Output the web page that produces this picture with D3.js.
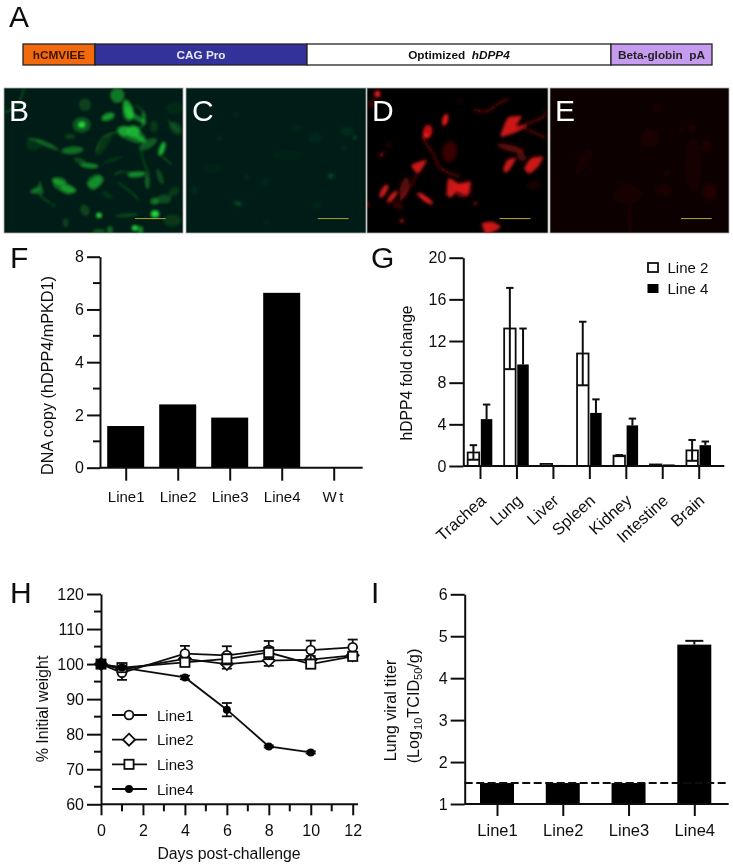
<!DOCTYPE html>
<html>
<head>
<meta charset="utf-8">
<script src="https://cdnjs.cloudflare.com/ajax/libs/d3/7.8.5/d3.min.js"></script>
<style>
  html, body { margin: 0; padding: 0; background: #fff; }
  svg { display: block; }
  text { font-family: "Liberation Sans", Arial, sans-serif; fill: #111; }
</style>
</head>
<body>
<div id="chart"></div>
<script>
var width = 733,
  height = 867;

// panel A construct
var constructNames = ['hCMVIEE', 'CAG Pro', 'Optimized', 'Beta-globin  pA'];
var constructEnds = [0, 72, 284, 588, 689];
var constructColors = ['#f26a0f', '#33339a', '#ffffff', '#c69cf0'];

// panel F
var fCats = ['Line1', 'Line2', 'Line3', 'Line4', 'Wt'];
var fVals = [1.58, 2.4, 1.9, 6.63, 0];

// panel G
var gCats = ['Trachea', 'Lung', 'Liver', 'Spleen', 'Kidney', 'Intestine', 'Brain'];
var gLine2 = [1.3, 13.2, 0.2, 10.8, 1.0, 0.15, 1.5];
var gLine2Err = [0.7, 3.9, 0, 3.05, 0.05, 0, 1.0];
var gLine4 = [4.5, 9.75, 0.1, 5.1, 3.9, 0.15, 2.0];
var gLine4Err = [1.4, 3.45, 0, 1.3, 0.65, 0, 0.35];

// panel H
var hDays = [0, 1, 4, 6, 8, 10, 12];
var hLine1 = [100, 97.5, 103, 102.5, 104, 104, 104.8];
var hLine1Err = [0, 2, 2.2, 2.6, 2.6, 2.7, 2.2];
var hLine2 = [100, 98.5, 101.5, 100, 101, 101.3, 102.5];
var hLine2Err = [0, 1, 1, 1.3, 1.5, 1, 0.8];
var hLine3 = [100, 99, 100.5, 101.5, 103.3, 100, 102.2];
var hLine3Err = [0, 1, 1, 1.3, 1.5, 1.2, 0.8];
var hLine4 = [100, 99, 96.2, 87, 76.5, 74.8];
var hLine4Err = [0, 0.5, 0.5, 1.9, 0.3, 0.3];

// panel I
var iCats = ['Line1', 'Line2', 'Line3', 'Line4'];
var iVals = [1.5, 1.5, 1.5, 4.8];
var iErr = [0, 0, 0, 0.09];

// micrograph cells: x, y, rx, ry, angle, opacity (image is 537 x 433 units)
var cellsB = [
  [233,110,20,17,0,.3],[233,110,8,7,0,1],[340,22,15,16,0,.5],[372,65,10,22,-15,.7],[400,90,22,5,30,.5],[418,92,4,16,0,.45],
  [360,128,12,11,0,.55],[388,130,14,13,0,.65],[410,152,14,6,30,.55],[312,86,15,8,-20,.65],[243,50,14,14,0,.2],[198,145,12,7,0,.18],
  [130,170,28,5,25,.3],[90,168,18,14,0,.12],[205,186,24,8,-5,.45],[228,218,14,6,20,.25],[256,232,20,5,5,.6],[165,278,16,8,10,.5],
  [193,302,18,8,15,.45],[272,280,18,14,-35,.35],[92,305,12,5,-30,.35],[398,258,20,6,-5,.6],[430,280,5,16,0,.4],
  [468,265,6,18,-20,.25],[474,182,6,16,20,.8],[432,168,22,9,-30,.35],[450,115,10,14,0,.15],[515,120,12,16,-40,.18],[285,380,6,6,0,1],
  [453,376,9,8,0,1],[393,418,7,6,0,1],[410,425,5,9,0,.6],[452,338,9,7,0,.5],[480,332,16,10,0,.25],[243,365,10,13,-25,.22],
  [368,380,26,5,-5,.2],[318,424,6,9,0,.4],[185,402,7,10,0,.2],[285,428,14,5,0,.3],[510,310,14,10,-30,.15],[505,395,20,14,0,.15],
  [150,350,2,2,0,.8],[325,215,24,4,-20,.15],[300,170,8,30,35,.14],[310,320,14,6,30,.14],[510,60,20,14,0,.08]
];
var cellsC = [
  [503,148,4,3,-30,.35],[480,130,14,10,0,.07],[432,263,6,6,0,.2],[180,267,3,2,0,.28],[155,345,9,5,20,.2],[235,280,8,6,0,.06],
  [385,150,14,10,0,.05],[150,80,5,4,0,.08],[100,150,4,4,0,.1],[330,120,12,8,0,.04],[25,305,5,8,0,.08],[240,400,6,3,0,.08],
  [470,180,5,5,0,.08],[390,350,7,5,0,.06],[80,240,20,8,0,.03],[300,200,30,10,0,.025]
];
var cellsD = [
  [31,18,6,7,0,1],[232,95,6,13,15,.95],[180,130,10,14,10,.8],[175,142,7,6,0,.9],
  [245,190,15,22,10,.22],[427,180,30,7,15,.35],[458,205,12,8,40,.28],
  [50,308,6,16,30,.85],[110,300,9,24,15,.35],[75,325,5,16,40,.9],[90,350,14,6,30,.2],[172,330,5,20,-55,.95],
  [285,305,18,16,0,.35],[103,397,5,3,0,.8],[322,345,4,3,0,.55],[45,200,4,2,-30,.5],[65,170,4,3,0,.25],
  [495,290,14,8,0,.08],[0,348,3,6,0,.6],[275,40,5,5,0,.08]
];
var cellsE = [
  [300,150,18,18,0,.07],[480,310,16,18,0,.09],[340,305,18,12,0,.06],[470,175,10,12,0,.07],[425,120,7,7,0,.07],[395,125,6,6,0,.05],
  [320,60,10,8,0,.05],[100,220,8,30,30,.05],[230,320,30,20,0,.03],[240,400,6,40,0,.03],[430,230,20,60,0,.025],[350,255,6,5,0,.05]
];
// larger cell bodies, outlines in the same image units
var shapesB = [
  [[106,275],[118,315],[83,312],[102,298]],[[360,60],[385,55],[392,85],[372,100],[358,85]],[[340,118],[395,115],[425,150],[400,165],[350,145]],
  [[150,270],[190,285],[215,305],[190,318],[150,295]],[[250,285],[285,258],[300,275],[270,305]]
];
var shapesD = [
  [[397,145],[417,90],[437,85],[459,85],[442,115],[477,110],[447,130]],[[237,320],[242,270],[272,285],[307,280],[297,320],[267,310],[252,325]],
  [[342,405],[372,400],[397,415],[372,430],[352,435]],[[467,240],[487,210],[522,205],[507,235],[482,255]],
  [[405,240],[417,215],[442,210],[422,245],[409,252]],[[132,230],[177,215],[152,255]]
];
// thin cell processes
var processB = [
  [[70,150],[110,160],[150,175]],[[0,75],[40,50],[60,0]],[[105,318],[125,335],[142,345]],[[340,280],[380,310],[405,335]],
  [[275,190],[300,145],[350,130]],[[410,190],[425,235],[435,260]],[[475,205],[490,218],[503,230]],[[395,50],[420,75],[418,110],[395,125]],
  [[525,130],[505,110],[490,95]],[[330,260],[350,250],[392,255]]
];
var processD = [
  [[318,65],[355,70],[385,50],[420,32]],[[440,120],[480,105],[525,85],[530,70]],[[5,40],[15,55],[20,30]],[[165,150],[195,195],[220,240],[275,265]],
  [[35,205],[50,190]],[[150,250],[125,300],[95,340]],[[440,110],[500,135],[530,150]]
];
var processE = [[[60,180],[110,230],[150,270]],[[200,280],[270,310],[300,400]]];

var svg = d3.select('#chart').append('svg')
  .attr('width', width)
  .attr('height', height);

var defs = svg.append('defs');
defs.append('filter').attr('id', 'soft').attr('x', '-5%').attr('y', '-5%').attr('width', '110%').attr('height', '110%')
  .append('feGaussianBlur').attr('stdDeviation', 0.4);
defs.append('filter').attr('id', 'cellblur').attr('x', '-5%').attr('y', '-5%').attr('width', '110%').attr('height', '110%')
  .append('feGaussianBlur').attr('stdDeviation', 1.5);

var chart = svg.append('g').attr('filter', 'url(#soft)');

function letter(t, x, y, col) {
  chart.append('text').attr('x', x).attr('y', y).attr('font-size', 30)
    .style('fill', col || '#111').text(t);
}

//// panel A
var a = d3.scaleLinear().domain([0, 689]).range([23, 712]);
var ag = chart.append('g');
d3.range(4).forEach(function(i) {
  ag.append('rect')
    .attr('x', a(constructEnds[i]))
    .attr('y', 44)
    .attr('width', a(constructEnds[i + 1]) - a(constructEnds[i]))
    .attr('height', 21)
    .attr('fill', constructColors[i])
    .attr('stroke', '#222')
    .attr('stroke-width', 1.3);
});
function constructLabel(i, col) {
  return ag.append('text')
    .attr('x', (a(constructEnds[i]) + a(constructEnds[i + 1])) / 2)
    .attr('y', 59).attr('text-anchor', 'middle')
    .attr('font-size', 11.8).attr('font-weight', 'bold')
    .style('fill', col);
}
constructLabel(0, '#3a1500').text(constructNames[0]);
constructLabel(1, '#e8e8f5').text(constructNames[1]);
var opt = constructLabel(2, '#111').attr('xml:space', 'preserve').text(constructNames[2] + '  ');
opt.append('tspan').style('font-style', 'italic').text('hDPP4');
constructLabel(3, '#222').attr('xml:space', 'preserve').text(constructNames[3]);
letter('A', 9, 27);

//// micrographs
function micro(x0, x1, bg, col, cells, shapes, shapeOp, procs, procOp, barCol) {
  var y0 = 88, y1 = 233;
  var mx = d3.scaleLinear().domain([0, 537]).range([x0, x1]);
  var my = d3.scaleLinear().domain([0, 433]).range([y0, y1]);
  var id = 'clip' + x0;
  defs.append('clipPath').attr('id', id).append('rect')
    .attr('x', x0).attr('y', y0).attr('width', x1 - x0).attr('height', y1 - y0);
  chart.append('rect').attr('x', x0).attr('y', y0).attr('width', x1 - x0).attr('height', y1 - y0)
    .attr('fill', bg).attr('stroke', '#a8aca8').attr('stroke-width', 0.8);
  var g = chart.append('g').attr('clip-path', 'url(#' + id + ')')
    .append('g').attr('filter', 'url(#cellblur)');
  g.selectAll('ellipse').data(cells).enter().append('ellipse')
    .attr('cx', function(d) { return mx(d[0]); })
    .attr('cy', function(d) { return my(d[1]); })
    .attr('rx', function(d) { return d[2] * 1.4 / 3; })
    .attr('ry', function(d) { return d[3] * 1.4 / 3; })
    .attr('transform', function(d) { return 'rotate(' + d[4] + ' ' + mx(d[0]) + ' ' + my(d[1]) + ')'; })
    .attr('fill', col)
    .attr('opacity', function(d) { return d[5]; });
  var ln = d3.line().curve(d3.curveCatmullRom)
    .x(function(d) { return mx(d[0]); })
    .y(function(d) { return my(d[1]); });
  var blob = d3.line().curve(d3.curveCardinalClosed.tension(0.4))
    .x(function(d) { return mx(d[0]); })
    .y(function(d) { return my(d[1]); });
  g.selectAll('path.shape').data(shapes).enter().append('path').attr('class', 'shape')
    .attr('d', blob).attr('fill', col).attr('opacity', shapeOp);
  g.selectAll('path.proc').data(procs).enter().append('path').attr('class', 'proc')
    .attr('d', ln).attr('fill', 'none').attr('stroke', col)
    .attr('stroke-width', 1.4).attr('opacity', procOp);
  chart.append('line')
    .attr('x1', mx(393)).attr('x2', mx(485))
    .attr('y1', my(390)).attr('y2', my(390))
    .attr('stroke', barCol).attr('stroke-width', 1);
}
micro(4, 183, '#001a16', '#20d838', cellsB, shapesB, 0.4, processB, 0.4, '#b0a030');
micro(186, 366, '#001e18', '#20d838', cellsC, [], 0, [], 0, '#b0a030');
micro(367, 548, '#050000', '#f01414', cellsD, shapesD, 0.85, processD, 0.5, '#b0b030');
micro(550, 729, '#0e0000', '#e01010', cellsE, [], 0, processE, 0.05, '#b0b030');
letter('B', 9, 121, '#fff');
letter('C', 192, 121, '#fff');
letter('D', 372, 121, '#fff');
letter('E', 555, 121, '#fff');

//// shared axis styling
function styleAxis(g, tickW) {
  g.selectAll('.domain').attr('stroke', '#111').attr('stroke-width', 2);
  g.selectAll('.tick line').attr('stroke', '#111').attr('stroke-width', tickW || 2);
  g.selectAll('text').attr('font-size', 16).style('fill', '#111').attr('font-family', '"Liberation Sans", Arial, sans-serif');
}
function minorY(y, vals, x) {
  chart.append('g').selectAll('line').data(vals).enter().append('line')
    .attr('x1', x - 7).attr('x2', x)
    .attr('y1', function(d) { return y(d); })
    .attr('y2', function(d) { return y(d); })
    .attr('stroke', '#111').attr('stroke-width', 2);
}
function yLabel(t, x, y, size) {
  return chart.append('text')
    .attr('transform', 'translate(' + x + ',' + y + ') rotate(-90)')
    .attr('text-anchor', 'middle').attr('font-size', size || 16).text(t);
}

//// panel F
var fx = d3.scalePoint().domain(fCats).range([125.7, 333.7]);
var fy = d3.scaleLinear().domain([0, 8]).range([467.7, 256.7]);
chart.append('g').selectAll('rect').data(fCats).enter().append('rect')
  .attr('x', function(d) { return fx(d) - 18.5; })
  .attr('width', 37)
  .attr('y', function(d, i) { return fy(fVals[i]); })
  .attr('height', function(d, i) { return fy(0) - fy(fVals[i]); })
  .attr('fill', '#000');
minorY(fy, [1, 3, 5, 7], 100);
var fAxisY = chart.append('g').attr('transform', 'translate(100,0)')
  .call(d3.axisLeft(fy).tickValues([0, 2, 4, 6, 8]).tickSize(13).tickSizeOuter(0).tickPadding(3));
styleAxis(fAxisY);
var fAxisX = chart.append('g').attr('transform', 'translate(0,467.7)')
  .call(d3.axisBottom(fx).tickSize(13).tickPadding(11));
fAxisX.select('.domain').attr('d', 'M100,0H362.7');
styleAxis(fAxisX);
fAxisX.selectAll('text').attr('font-size', 15);
fAxisX.selectAll('.tick text').filter(function(d) { return d == 'Wt'; }).attr('letter-spacing', 2.5);
yLabel('DNA copy (hDPP4/mPKD1)', 53, 375.5, 16.2);
letter('F', 10, 268);

//// panel G
var gx = d3.scalePoint().domain(gCats).range([480, 698.7]);
var gy = d3.scaleLinear().domain([0, 20]).range([466, 257.7]);
var barW = 11.5;
function errBars(cats, vals, errs, off, col, both) {
  var g = chart.append('g').attr('stroke', col).attr('stroke-width', 2);
  cats.forEach(function(c, i) {
    if (!errs[i]) return;
    var cx = gx(c) + off;
    g.append('line').attr('x1', cx).attr('x2', cx)
      .attr('y1', gy(both ? vals[i] - errs[i] : vals[i])).attr('y2', gy(vals[i] + errs[i]));
    g.append('line').attr('x1', cx - 3.7).attr('x2', cx + 3.7)
      .attr('y1', gy(vals[i] + errs[i])).attr('y2', gy(vals[i] + errs[i]));
    if (both) {
      g.append('line').attr('x1', cx - barW / 2).attr('x2', cx + barW / 2)
        .attr('y1', gy(vals[i] - errs[i])).attr('y2', gy(vals[i] - errs[i]));
    }
  });
}
errBars(gCats, gLine2, gLine2Err, -6.6, '#111', true);
errBars(gCats, gLine4, gLine4Err, 6.6, '#111', false);
chart.append('g').selectAll('rect').data(gCats).enter().append('rect')
  .attr('x', function(d) { return gx(d) - 0.8 - barW; })
  .attr('width', barW)
  .attr('y', function(d, i) { return gy(gLine2[i]); })
  .attr('height', function(d, i) { return gy(0) - gy(gLine2[i]); })
  .attr('fill', 'none').attr('stroke', '#111').attr('stroke-width', 1.8);
chart.append('g').selectAll('rect').data(gCats).enter().append('rect')
  .attr('x', function(d) { return gx(d) + 0.8; })
  .attr('width', barW)
  .attr('y', function(d, i) { return gy(gLine4[i]); })
  .attr('height', function(d, i) { return gy(0) - gy(gLine4[i]); })
  .attr('fill', '#000');
var gAxisY = chart.append('g').attr('transform', 'translate(463.3,0)')
  .call(d3.axisLeft(gy).tickValues([0, 4, 8, 12, 16, 20]).tickSize(14).tickSizeOuter(0).tickPadding(3));
styleAxis(gAxisY);
var gAxisX = chart.append('g').attr('transform', 'translate(0,466)')
  .call(d3.axisBottom(gx).tickSize(13).tickFormat(''));
gAxisX.select('.domain').attr('d', 'M463.3,0H724.3');
styleAxis(gAxisX);
chart.append('g').selectAll('text').data(gCats).enter().append('text')
  .attr('transform', function(d) { return 'translate(' + (gx(d) + 7) + ',502) rotate(-42)'; })
  .attr('text-anchor', 'end').attr('font-size', 16.5)
  .text(function(d) { return d; });
yLabel('hDPP4 fold change', 412, 373, 15.7);
// legend
chart.append('rect').attr('x', 648).attr('y', 263).attr('width', 10).attr('height', 9)
  .attr('fill', '#fff').attr('stroke', '#111').attr('stroke-width', 1.8);
chart.append('rect').attr('x', 647.5).attr('y', 284).attr('width', 11).attr('height', 9).attr('fill', '#000');
chart.append('text').attr('x', 667.5).attr('y', 272.5).attr('font-size', 15).text('Line 2');
chart.append('text').attr('x', 667.5).attr('y', 294).attr('font-size', 15).text('Line 4');
letter('G', 371, 268);

//// panel H
var hx = d3.scaleLinear().domain([0, 12]).range([101, 352.7]);
var hy = d3.scaleLinear().domain([60, 120]).range([804.3, 594]);
minorY(hy, [65, 75, 85, 95, 105, 115], 101);
var hAxisY = chart.append('g').attr('transform', 'translate(101,0)')
  .call(d3.axisLeft(hy).tickValues([60, 70, 80, 90, 100, 110, 120]).tickSize(14).tickSizeOuter(0).tickPadding(3));
styleAxis(hAxisY);
chart.append('g').selectAll('line').data([1, 3, 5, 7, 9, 11]).enter().append('line')
  .attr('x1', function(d) { return hx(d); }).attr('x2', function(d) { return hx(d); })
  .attr('y1', hy(60)).attr('y2', hy(60) + 7)
  .attr('stroke', '#111').attr('stroke-width', 2);
var hAxisX = chart.append('g').attr('transform', 'translate(0,804.3)')
  .call(d3.axisBottom(hx).tickValues([0, 2, 4, 6, 8, 10, 12]).tickSize(11).tickSizeOuter(0).tickPadding(9));
hAxisX.select('.domain').attr('d', 'M101,0H358');
styleAxis(hAxisX);

var hLine = d3.line()
  .x(function(d) { return hx(d[0]); })
  .y(function(d) { return hy(d[1]); });

function marker(g, shape, x, y) {
  if (shape == 'circle') {
    g.append('circle').attr('cx', x).attr('cy', y).attr('r', 4.4)
      .attr('fill', '#fff').attr('stroke', '#111').attr('stroke-width', 1.8);
  } else if (shape == 'diamond') {
    g.append('path').attr('d', 'M' + x + ',' + (y - 6) + 'L' + (x + 6) + ',' + y + 'L' + x + ',' + (y + 6) + 'L' + (x - 6) + ',' + y + 'Z')
      .attr('fill', '#fff').attr('stroke', '#111').attr('stroke-width', 1.8);
  } else if (shape == 'square') {
    g.append('rect').attr('x', x - 4.6).attr('y', y - 4.6).attr('width', 9.2).attr('height', 9.2)
      .attr('fill', '#fff').attr('stroke', '#111').attr('stroke-width', 1.8);
  } else {
    g.append('circle').attr('cx', x).attr('cy', y).attr('r', 4).attr('fill', '#000');
  }
}
function series(vals, errs, shape) {
  var g = chart.append('g');
  var pts = vals.map(function(v, i) { return [hDays[i], v]; });
  g.append('path').attr('d', hLine(pts)).attr('fill', 'none').attr('stroke', '#111').attr('stroke-width', 1.8);
  pts.forEach(function(p, i) {
    if (!errs[i]) return;
    var cx = hx(p[0]);
    g.append('line').attr('x1', cx).attr('x2', cx).attr('y1', hy(p[1] - errs[i])).attr('y2', hy(p[1] + errs[i]))
      .attr('stroke', '#111').attr('stroke-width', 1.8);
    [-1, 1].forEach(function(s) {
      g.append('line').attr('x1', cx - 5).attr('x2', cx + 5)
        .attr('y1', hy(p[1] + s * errs[i])).attr('y2', hy(p[1] + s * errs[i]))
        .attr('stroke', '#111').attr('stroke-width', 1.8);
    });
  });
  pts.forEach(function(p) { marker(g, shape, hx(p[0]), hy(p[1])); });
}
series(hLine2, hLine2Err, 'diamond');
series(hLine1, hLine1Err, 'circle');
series(hLine3, hLine3Err, 'square');
series(hLine4, hLine4Err, 'dot');
// the day 0 point is drawn solid on the axis
chart.append('rect').attr('x', hx(0) - 5).attr('y', hy(100) - 5).attr('width', 10).attr('height', 10).attr('fill', '#000');

var hLegend = ['Line1', 'Line2', 'Line3', 'Line4'];
var hShapes = ['circle', 'diamond', 'square', 'dot'];
var hLegendY = d3.scalePoint().domain(hLegend).range([715, 789]);
hLegend.forEach(function(n, i) {
  var ly = hLegendY(n);
  var g = chart.append('g');
  g.append('line').attr('x1', 112).attr('x2', 147).attr('y1', ly).attr('y2', ly).attr('stroke', '#111').attr('stroke-width', 1.8);
  marker(g, hShapes[i], 129, ly);
  chart.append('text').attr('x', 157).attr('y', ly + 5.5).attr('font-size', 15).text(n);
});
chart.append('text').attr('x', 229).attr('y', 859).attr('text-anchor', 'middle').attr('font-size', 15.8).text('Days post-challenge');
yLabel('% Initial weight', 48, 709, 16);
letter('H', 10, 603);

//// panel I
var ix = d3.scalePoint().domain(iCats).range([497, 694.3]);
var iy = d3.scaleLinear().domain([1, 6]).range([804, 594.3]);
chart.append('g').selectAll('rect').data(iCats).enter().append('rect')
  .attr('x', function(d) { return ix(d) - 17; })
  .attr('width', 34)
  .attr('y', function(d, i) { return iy(iVals[i]); })
  .attr('height', function(d, i) { return iy(1) - iy(iVals[i]); })
  .attr('fill', '#000');
iCats.forEach(function(c, i) {
  if (!iErr[i]) return;
  var cx = ix(c);
  chart.append('line').attr('x1', cx).attr('x2', cx).attr('y1', iy(iVals[i])).attr('y2', iy(iVals[i] + iErr[i]))
    .attr('stroke', '#111').attr('stroke-width', 2);
  chart.append('line').attr('x1', cx - 9).attr('x2', cx + 9).attr('y1', iy(iVals[i] + iErr[i])).attr('y2', iy(iVals[i] + iErr[i]))
    .attr('stroke', '#111').attr('stroke-width', 2);
});
chart.append('line').attr('x1', 464.7).attr('x2', 729)
  .attr('y1', iy(1.5)).attr('y2', iy(1.5))
  .attr('stroke', '#111').attr('stroke-width', 2).attr('stroke-dasharray', '8,3.5');
var iAxisY = chart.append('g').attr('transform', 'translate(464.7,0)')
  .call(d3.axisLeft(iy).tickValues([1, 2, 3, 4, 5, 6]).tickFormat(d3.format('d')).tickSize(14).tickSizeOuter(0).tickPadding(3));
styleAxis(iAxisY);
var iAxisX = chart.append('g').attr('transform', 'translate(0,804)')
  .call(d3.axisBottom(ix).tickSize(12).tickPadding(8));
iAxisX.select('.domain').attr('d', 'M464.7,0H728.7');
styleAxis(iAxisX);
iAxisX.selectAll('text').attr('font-size', 16.5);
yLabel('Lung viral titer', 396, 710.5, 16.2);
var tt = yLabel('(Log', 419, 706, 16.2);
tt.append('tspan').attr('font-size', 11).attr('dy', 3).attr('dx', 1).text('10');
tt.append('tspan').attr('dy', -3).text('TCID');
tt.append('tspan').attr('font-size', 11).attr('dy', 3).text('50');
tt.append('tspan').attr('dy', -3).text('/g)');
letter('I', 371, 603);
</script>
</body>
</html>
